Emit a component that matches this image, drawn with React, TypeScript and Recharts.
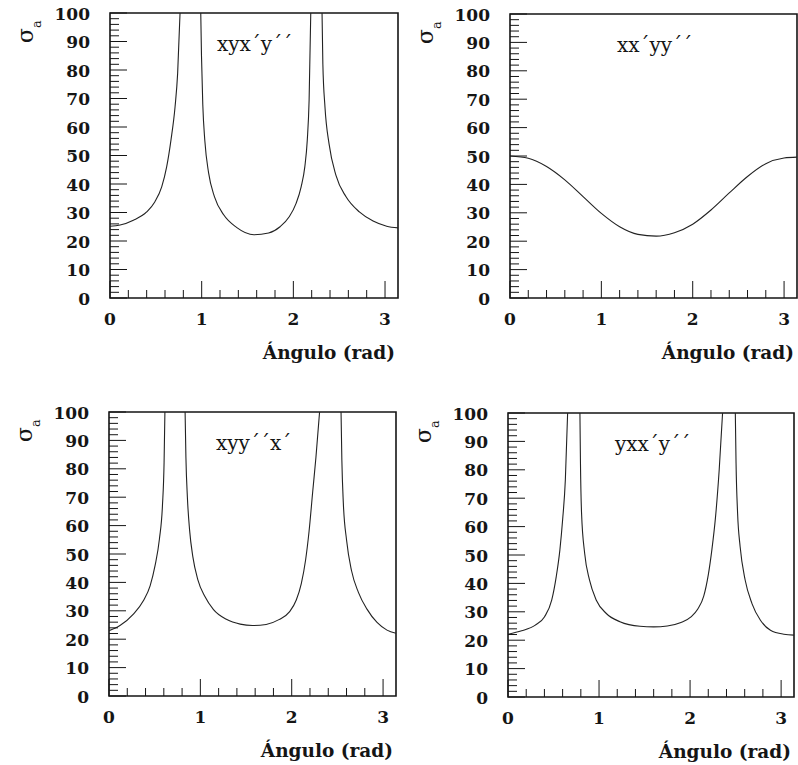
import React from 'react';
import { LineChart, Line, XAxis, YAxis, ReferenceArea, Label } from 'recharts';

const TEXT_FONT = "'DejaVu Serif', serif";
const INK = '#151515';
const tickText = { fontFamily: TEXT_FONT, fontWeight: 700, fill: INK, fontSize: 17 } as const;
const plainText = { fontFamily: TEXT_FONT, fontWeight: 400, fill: INK } as const;

// ticks shared by the four panels (minor every 0.2 rad / 2 units)
const xTicks = [0, 0.2, 0.4, 0.6, 0.8, 1, 1.2, 1.4, 1.6, 1.8, 2, 2.2, 2.4, 2.6, 2.8, 3];
const yTicks = [
  0, 2, 4, 6, 8, 10, 12, 14, 16, 18, 20, 22, 24, 26, 28, 30, 32, 34, 36, 38, 40,
  42, 44, 46, 48, 50, 52, 54, 56, 58, 60, 62, 64, 66, 68, 70, 72, 74, 76, 78, 80,
  82, 84, 86, 88, 90, 92, 94, 96, 98, 100,
];

// xyx´y´´  (null = break at the divergence)
const xyxAngle = [
  0, 0.11, 0.255, 0.4, 0.49, 0.564, 0.618, 0.665, 0.71, 0.738, 0.764,
  0.88,
  0.99, 0.998, 1.012, 1.035, 1.075, 1.14, 1.24, 1.38, 1.57, 1.73, 1.855, 1.955, 2.03, 2.085, 2.125, 2.152, 2.172, 2.19,
  2.25,
  2.313, 2.322, 2.345, 2.39, 2.465, 2.575, 2.72, 2.87, 3.018, 3.1416,
];
const xyxSigma = [
  25.2, 25.6, 27.3, 30.2, 33.8, 39, 46, 55.4, 67.2, 78.9, 100,
  null,
  100, 85, 68, 55, 44, 35.5, 29.2, 24.8, 22.2, 22.8, 25, 28.5, 33.2, 39, 46, 55.4, 69.5, 100,
  null,
  100, 82, 67, 54, 43, 35.5, 30.2, 27, 25.2, 24.6,
];

// xx´yy´´
const xxyAngle = [0, 0.2, 0.4, 0.6, 0.8, 1, 1.2, 1.4, 1.6, 1.8, 2, 2.2, 2.4, 2.6, 2.8, 3, 3.1416];
const xxySigma = [50, 49.2, 46.3, 41.6, 35.7, 29.8, 25.1, 22.4, 21.8, 23, 26, 31, 37, 42.8, 47.3, 49.3, 49.6];

// xyy´´x´
const xyyAngle = [
  0, 0.12, 0.267, 0.376, 0.45, 0.504, 0.552, 0.585, 0.603, 0.612,
  0.72,
  0.833, 0.842, 0.858, 0.882, 0.918, 0.972, 1.05, 1.144, 1.29, 1.436, 1.571, 1.72, 1.86, 1.975, 2.05, 2.105, 2.152, 2.19, 2.23, 2.265, 2.305,
  2.42,
  2.54, 2.549, 2.565, 2.6, 2.655, 2.73, 2.824, 2.934, 3.043, 3.1416,
];
const xyySigma = [
  23, 24.8, 28.8, 33.5, 38.8, 45.9, 55.3, 67, 82.3, 100,
  null,
  100, 84, 70, 58.5, 49, 41, 35, 30.4, 26.9, 25.3, 24.8, 25.2, 26.9, 29.6, 33.8, 39.6, 47.9, 58, 72, 84, 100,
  null,
  100, 83, 68, 55, 44.1, 36.5, 30.6, 25.9, 23.2, 22.1,
];

// yxx´y´´
const yxxAngle = [
  0, 0.15, 0.3, 0.4, 0.48, 0.53, 0.57, 0.6, 0.63, 0.655,
  0.72,
  0.79, 0.796, 0.808, 0.842, 0.895, 0.97, 1.08, 1.23, 1.45, 1.6, 1.75, 1.9, 2.01, 2.085, 2.15, 2.2, 2.24, 2.28, 2.32, 2.357,
  2.43,
  2.497, 2.505, 2.522, 2.55, 2.605, 2.68, 2.773, 2.883, 3.03, 3.1416,
];
const yxxSigma = [
  22.1, 23.3, 25.3, 28.2, 34.1, 42.4, 51.8, 62.4, 76.5, 100,
  null,
  100, 82.4, 64.7, 50.6, 41.2, 34.1, 29.4, 26.5, 24.9, 24.7, 25, 26.2, 28.2, 31, 35.5, 43, 52, 63.5, 80, 100,
  null,
  100, 82.4, 64.7, 52.9, 41.2, 32.9, 27, 23.5, 22.1, 21.8,
];

const rows = (angle: number[], sigma: (number | null)[]) =>
  angle.map((a, i) => ({ angle: a, sigma: sigma[i] }));

const XH = 65;

const panels = [
  { id: 'a', title: 'xyx´y´´', data: rows(xyxAngle, xyxSigma), qx: 0, qy: 0, cw: 400, ch: 380, l: 110, t: 13, w: 288, h: 285 },
  { id: 'b', title: 'xx´yy´´', data: rows(xxyAngle, xxySigma), qx: 400, qy: 0, cw: 398, ch: 380, l: 510, t: 14, w: 287, h: 284 },
  { id: 'c', title: 'xyy´´x´', data: rows(xyyAngle, xyySigma), qx: 0, qy: 380, cw: 400, ch: 385, l: 109, t: 412, w: 287, h: 284 },
  { id: 'd', title: 'yxx´y´´', data: rows(yxxAngle, yxxSigma), qx: 400, qy: 380, cw: 398, ch: 385, l: 508, t: 413, w: 286, h: 284 },
];

const XTick = ({ x, y, payload }: any) => {
  const v = payload.value;
  const major = Math.abs(v - Math.round(v)) < 1e-6;
  return (
    <g>
      <line x1={x} x2={x} y1={y} y2={y - (major ? 17 : 8)} stroke={INK} strokeWidth={1} />
      {major && (
        <text x={x} y={y + 27} textAnchor="middle" style={tickText}>
          {Math.round(v)}
        </text>
      )}
    </g>
  );
};

const YTick = ({ x, y, payload }: any) => {
  const v = payload.value;
  const major = v % 10 === 0;
  return (
    <g>
      <line x1={x} x2={x + (major ? 17 : 9)} y1={y} y2={y} stroke={INK} strokeWidth={1} />
      {major && (
        <text x={x - 20} y={y + 6.5} textAnchor="end" style={tickText}>
          {v}
        </text>
      )}
    </g>
  );
};

function Panel({ p }: { p: (typeof panels)[number] }) {
  const yw = p.l - p.qx;
  const top = p.t - p.qy;
  const margin = { top, right: p.qx + p.cw - p.l - p.w, bottom: p.qy + p.ch - p.t - p.h - XH, left: 0 };
  const plotRight = yw + p.w;
  const plotBottom = top + p.h;
  return (
    <div style={{ position: 'absolute', left: p.qx, top: p.qy }}>
      <LineChart width={p.cw} height={p.ch} data={p.data} margin={margin}>
        <XAxis
          type="number" dataKey="angle" domain={[0, Math.PI]} ticks={xTicks} interval={0}
          allowDataOverflow tickLine={false} axisLine={false} tickSize={0} tickMargin={0}
          height={XH} tick={<XTick />}
        >
          <Label
            content={() => (
              <text x={plotRight - 3} y={plotBottom + 61} textAnchor="end"
                style={{ ...plainText, fontWeight: 700, fontSize: 18.5 }}>
                Ángulo (rad)
              </text>
            )}
          />
        </XAxis>
        <YAxis
          type="number" domain={[0, 100]} ticks={yTicks} interval={0} allowDataOverflow
          tickLine={false} axisLine={false} tickSize={0} tickMargin={0} width={yw} tick={<YTick />}
        >
          <Label
            content={() => (
              <text transform={`rotate(-90 ${yw - 77} ${top + 30})`} x={yw - 77} y={top + 30}
                style={{ ...plainText, fontSize: 22 }}>
                σ<tspan dy={8} style={{ fontSize: 13 }}>a</tspan>
              </text>
            )}
          />
        </YAxis>
        <ReferenceArea
          x1={0} x2={Math.PI} y1={0} y2={100} fill="none" stroke={INK} strokeWidth={1.6}
          ifOverflow="visible"
          label={{
            content: () => (
              <text x={yw + 107} y={top + 38} style={{ ...plainText, fontSize: 20 }}>
                {p.title}
              </text>
            ),
          }}
        />
        <Line
          type="monotone" dataKey="sigma" stroke="#222" strokeWidth={1.1} dot={false}
          connectNulls={false} isAnimationActive={false}
        />
      </LineChart>
    </div>
  );
}

export default function App() {
  return (
    <div style={{ position: 'absolute', left: 0, top: 0, width: 798, height: 765, background: '#fff' }}>
      {panels.map((p) => (
        <Panel key={p.id} p={p} />
      ))}
    </div>
  );
}
